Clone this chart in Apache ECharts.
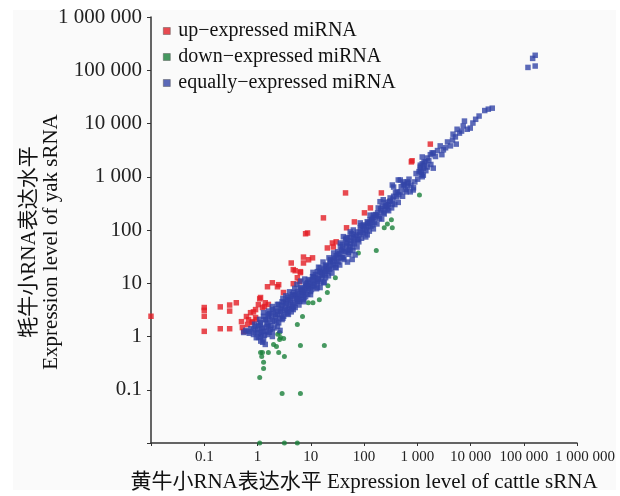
<!DOCTYPE html>
<html>
<head>
<meta charset="utf-8">
<script src="https://cdn.jsdelivr.net/npm/echarts/dist/echarts.min.js"></script>
<style>
  html, body { margin: 0; padding: 0; background: #fff; }
  .panel { position: absolute; left: 13px; top: 10px; width: 603px; height: 480px; background: #fafafa; }
  #chart { position: absolute; left: 0; top: 0; width: 620px; height: 496px; }
</style>
</head>
<body>
<div class="panel"></div>
<div id="chart"></div>
<script>
  // legend names
  const seriesNames = ['up\u2212expressed miRNA', 'down\u2212expressed miRNA', 'equally\u2212expressed miRNA'];
  const seriesColors = ['#e41e25', '#19803a', '#3345a8'];

  // tick labels for exponents -2 .. 6
  const tickLabels = ['', '0.1', '1', '10', '100', '1 000', '10 000', '100 000', '1 000 000'];

  // [cattle, yak]
  const upExpressed = [
    [0.01, 2.4],
    [0.1, 3.5], [0.1, 3.1], [0.1, 2.4], [0.1, 1.25],
    [0.2, 3.6], [0.2, 1.4], [0.3, 3.9], [0.3, 3.0], [0.3, 1.4], [0.4, 4.3],
    [0.5, 1.9], [0.55, 1.24], [0.52, 1.47], [0.62, 2.37], [0.68, 2.08], [0.74, 2.8], [0.84, 2.9],
    [0.92, 3.2], [0.8, 1.83], [0.96, 2.08], [0.65, 1.68], [1.04, 3.97], [1.14, 5.4], [1.24, 3.5],
    [1.35, 3.65], [1.54, 8.6], [1.9, 10.2], [2.37, 8.6], [1.6, 4.0], [3.07, 6.7], [4.7, 9.8],
    [5.6, 12.7], [6.4, 15.8], [5.1, 17.2],
    [8.7, 88], [8, 85], [25.5, 57], [26.6, 48], [20.5, 46], [30, 60], [4.3, 24], [7.3, 31],
    [9.1, 27.6], [10.8, 30], [7.3, 24], [4.7, 18], [6.4, 16.5], [6.1, 10.7], [2.5, 9.4],
    [1.1, 5.1], [1.4, 4.3], [0.92, 2.27], [0.8, 1.9],
    [17.3, 169], [45, 497], [212, 497], [132, 260], [102, 210], [66, 142], [47, 110],
    [775, 1900], [800, 2000], [1760, 4100]
  ];

  const downExpressed = [
    [2.6, 1.19], [3.1, 0.92], [6.4, 0.68], [18, 0.68], [1.24, 0.5], [1.6, 0.5], [2.0, 0.71],
    [2.27, 0.65], [2.5, 0.5], [3.2, 0.42], [1.2, 0.42], [1.3, 0.33], [1.3, 0.25], [1.1, 0.17],
    [2.9, 0.085], [6.4, 0.085], [1.1, 0.01], [3.2, 0.01], [5.6, 0.01], [1.14, 0.5], [2.7, 0.96],
    [5.6, 1.68], [7, 2.37], [11, 4.3], [14.5, 4.9], [20.5, 6.7], [21, 9], [29, 12.7], [9, 4.3],
    [78.5, 37], [170, 41], [1100, 455], [327, 155], [275, 130], [240, 110], [340, 110],
    [2.4, 1.1], [2.6, 0.88]
  ];

  const equallyExpressed = [
    [164000, 191000], [147000, 167000], [120000, 113000], [164000, 120000],
    [25600, 19400], [21600, 18600], [14500, 13800], [11100, 10200], [7700, 11100], [9900, 8200],
    [8700, 7800], [5600, 7800], [6200, 6600], [4700, 6300], [5200, 5600], [4600, 4900],
    [4200, 3800], [5400, 4100], [2700, 3800], [3100, 3200], [2000, 2800], [1760, 2600],
    [1540, 2250], [1340, 1900], [1140, 1650], [1300, 1450], [1190, 1230], [2000, 1450],
    [1240, 1000], [650, 800], [550, 700], [850, 620],
    [1240, 1750], [1140, 1330], [1300, 1070], [550, 800], [680, 760], [440, 870], [360, 640],
    [480, 520], [600, 570], [740, 520], [390, 500], [310, 400], [200, 340], [250, 330],
    [220, 280], [340, 310], [440, 330], [270, 240], [180, 210], [230, 210], [150, 170],
    [195, 165], [130, 155], [115, 143], [145, 125], [97, 125], [85, 110], [106, 92], [75, 92],
    [63, 81], [55, 72], [41, 75], [78, 66], [49, 58], [39, 53], [60, 48], [41, 39], [51, 38],
    [68, 34], [39, 30], [49, 25], [60, 28], [1540, 1520],
    [55, 92], [45, 66], [63, 60], [36, 49], [51, 42], [32, 39], [41, 31], [27, 30], [33, 25],
    [23, 24], [19, 22], [29, 20], [15, 19.6], [21, 16.5], [13.3, 16.5], [16.5, 14.5],
    [11.3, 13.3], [19, 12.7], [9, 11.7], [13.3, 10.7], [8, 9.4], [10.8, 8.6], [6.4, 8.3],
    [15, 8.3], [5.6, 7], [7.3, 6.7], [4.5, 6.1], [9.9, 6.1], [3.7, 5.4], [5.6, 4.9], [2.9, 4.5],
    [4.2, 4.3], [7.3, 4.5], [2.37, 4.0], [3.3, 3.65], [1.9, 3.2], [2.7, 2.95], [4.7, 3.2],
    [1.6, 2.6], [2.2, 2.37], [3.8, 2.6], [1.4, 2.08], [1.9, 1.9], [2.9, 2.08], [1.14, 1.68],
    [1.6, 1.54], [2.37, 1.54], [1.0, 1.35], [1.3, 1.24], [1.9, 1.24], [0.84, 1.09], [1.14, 1.0],
    [0.55, 1.19], [0.68, 1.24], [0.84, 1.35], [0.92, 1.54], [1.14, 1.83], [1.4, 2.08],
    [1.24, 1.47], [1.54, 1.68], [1.75, 1.35], [1.14, 1.19], [1.04, 0.96], [1.3, 0.88],
    [1.9, 1.0], [1.6, 2.37], [2.0, 2.9], [1.9, 3.65], [2.5, 4.0], [3.1, 4.3], [3.7, 4.9],
    [4.2, 5.6], [4.7, 6.7], [6.4, 7.6], [8.7, 10.2], [11.3, 12.7], [16.5, 15.8], [2.37, 2.6],
    [2.7, 3.2], [3.7, 3.2], [4.7, 3.65], [5.6, 4.5], [8, 5.6], [9.9, 7], [13.3, 8.3],
    [17.3, 10.2], [1.54, 1.09], [1.4, 0.71],
    [480, 870], [650, 645], [840, 565], [340, 700], [420, 520], [230, 370], [285, 300],
    [185, 260], [150, 190], [120, 115], [115, 81], [85, 136], [63, 100], [75, 66], [49, 72],
    [36, 57], [55, 42], [32, 31], [23.4, 27.6], [19, 20], [15.2, 15.8], [10.8, 13.3],
    [13.3, 10.2], [8, 8.6], [7, 6.7], [5.6, 5.6], [1140, 1520], [1240, 2350], [1900, 2800],
    [1430, 1900],
    [2.1, 2.0], [2.5, 1.8], [3, 2.2], [3.5, 2.9], [4, 3.8], [5, 4.2], [6, 5], [7, 6], [8, 7],
    [9, 8], [10, 9], [12, 11], [14, 12], [17, 14], [20, 17], [24, 19], [28, 23], [1.2, 1.4],
    [1.5, 1.5], [0.9, 1.2], [0.7, 1.15], [0.6, 1.3], [1.1, 2.1], [1.3, 2.4], [1.7, 2.7],
    [2.2, 3.3], [2.8, 3.8], [3.4, 4.6], [4.5, 5.2], [5.2, 6.2], [6.8, 7.2], [8.5, 9], [11, 10],
    [13, 13], [16, 16], [19, 18], [22, 21], [26, 26], [30, 33], [35, 36], [40, 44], [47, 50],
    [55, 55], [65, 70], [72, 80], [85, 90], [95, 100], [110, 120], [125, 135], [140, 150],
    [160, 175], [170, 190], [210, 230], [250, 260], [300, 340], [350, 380], [270, 280],
    [1.05, 1.6], [1.2, 1.1], [1.25, 0.78], [1.35, 1.05], [1.45, 1.25], [1.5, 1.85], [1.65, 1.2],
    [1.7, 2.1], [1.8, 1.6], [1.85, 2.4], [2.05, 1.45], [2.15, 2.6], [2.3, 1.9], [2.4, 3.0],
    [2.6, 2.2], [2.65, 1.3], [2.8, 2.6], [2.9, 3.4], [1.15, 0.82], [1.02, 1.2], [0.95, 0.95],
    [0.75, 1.4], [0.88, 1.7], [1.6, 3.0], [1.3, 2.8],
    [3.1, 2.4], [3.3, 3.1], [3.5, 4.1], [3.6, 2.7], [3.9, 3.4], [4.1, 4.8], [4.3, 2.9],
    [4.6, 4.0], [4.9, 5.8], [5.1, 3.5], [5.4, 5.2], [5.8, 6.4], [6.0, 3.9], [6.2, 4.6],
    [6.6, 5.9], [6.9, 8.0], [7.5, 5.3], [7.8, 7.5], [8.2, 9.8], [8.8, 6.2], [9.2, 8.8],
    [9.6, 11], [3.0, 5.2], [3.4, 5.8], [4.0, 6.9], [5.0, 8.0], [5.5, 9.5], [6.5, 11], [7.7, 12],
    [4.4, 3.3], [5.9, 5.1], [7.2, 4.9],
    [10.3, 7.6], [10.8, 11.4], [11.6, 9.0], [12.2, 14.5], [12.8, 7.9], [13.8, 12.2],
    [14.4, 16.8], [15.5, 10.6], [16.2, 13.0], [17.5, 18.5], [18, 10.5], [18.6, 15.2], [20, 21],
    [21.5, 13.8], [22.5, 18.2], [23.5, 26], [25, 15.5], [26.5, 22], [28, 29], [30, 19.5],
    [31, 26], [33, 35], [35, 22], [37, 30], [38, 42], [11, 16], [14, 20], [17, 25], [22, 30],
    [27, 37],
    [42, 28], [44, 40], [46, 55], [52, 35], [54, 48], [57, 64], [62, 41], [66, 55], [70, 75],
    [74, 48], [80, 60], [84, 82], [90, 70], [96, 88], [100, 115], [108, 74], [112, 100],
    [118, 135], [126, 95], [135, 118], [142, 160], [150, 105], [158, 140], [165, 195],
    [175, 130], [190, 180], [205, 250], [215, 160], [240, 200], [260, 290], [290, 230],
    [310, 350], [330, 260], [360, 430], [380, 300], [410, 420], [46, 70], [58, 85], [88, 120],
    [130, 190],
    [450, 460], [500, 650], [530, 430], [580, 720], [620, 520], [700, 900], [760, 700],
    [900, 800], [950, 1150], [1020, 900], [1080, 1250], [1200, 1100], [1350, 1600],
    [1450, 1300], [1650, 2000], [1800, 1700], [2200, 2400], [2400, 3100], [2900, 2600],
    [3400, 3500], [3700, 4500], [6800, 7200], [7300, 9000], [12500, 12000], [18500, 17500]
  ];

  const SERIF = '"Liberation Serif", "DejaVu Serif", "Noto Sans CJK SC", serif';

  function tickText(value) {
    const idx = Math.round(Math.log10(value)) + 2;
    return tickLabels[idx] || '';
  }

  const axisLine = { show: true, lineStyle: { color: '#333', width: 1.5 } };

  const chart = echarts.init(document.getElementById('chart'));
  chart.setOption({
    backgroundColor: 'transparent',
    animation: false,
    grid: { left: 151, top: 17, right: 43, bottom: 53, containLabel: false, outerBoundsMode: 'none' },
    legend: {
      orient: 'vertical',
      left: 158,
      top: 16,
      itemWidth: 7,
      itemHeight: 7,
      itemGap: 6,
      icon: 'rect',
      data: seriesNames,
      textStyle: { fontFamily: SERIF, fontSize: 20, color: '#111', lineHeight: 20, padding: [0, 0, 0, 3] },
      itemStyle: { borderColor: '#555', borderWidth: 0.6 }
    },
    xAxis: {
      type: 'log',
      logBase: 10,
      min: 0.01,
      max: 1000000,
      splitNumber: 8,
      axisLine: axisLine,
      axisTick: { show: true, length: 3, lineStyle: { color: '#333' } },
      minorTick: { show: false },
      splitLine: { show: false },
      axisLabel: {
        margin: 7,
        fontFamily: SERIF,
        fontSize: 15,
        color: '#222',
        formatter: v => {
          const s = tickText(v);
          return Math.round(Math.log10(v)) === 6 ? '{last|' + s + '}' : s;
        },
        rich: { last: { fontFamily: SERIF, fontSize: 15, color: '#222', padding: [0, 0, 0, 16] } }
      },
      name: '黄牛小RNA表达水平 Expression level of cattle sRNA',
      nameLocation: 'middle',
      nameGap: 29,
      nameMoveOverlap: false,
      nameTextStyle: { fontFamily: SERIF, fontSize: 21, color: '#111' }
    },
    yAxis: {
      type: 'log',
      logBase: 10,
      min: 0.01,
      max: 1000000,
      splitNumber: 8,
      axisLine: axisLine,
      axisTick: { show: true, length: 4, lineStyle: { color: '#333' } },
      minorTick: { show: false },
      splitLine: { show: false },
      axisLabel: {
        margin: 9,
        fontFamily: SERIF,
        fontSize: 21,
        color: '#222',
        formatter: v => tickText(v)
      },
      name: '牦牛小RNA表达水平\nExpression level of yak sRNA',
      nameLocation: 'middle',
      nameRotate: 90,
      nameGap: 89,
      nameMoveOverlap: false,
      nameTextStyle: { fontFamily: SERIF, fontSize: 21, color: '#111', lineHeight: 22, padding: [0, 24, 0, 0] }
    },
    series: [
      {
        name: seriesNames[0],
        type: 'scatter',
        symbol: 'rect',
        symbolSize: 5.5,
        itemStyle: { color: seriesColors[0] },
        data: upExpressed
      },
      {
        name: seriesNames[1],
        type: 'scatter',
        symbol: 'circle',
        symbolSize: 5,
        itemStyle: { color: seriesColors[1] },
        data: downExpressed
      },
      {
        name: seriesNames[2],
        type: 'scatter',
        symbol: 'rect',
        symbolSize: 5.5,
        itemStyle: { color: seriesColors[2] },
        data: equallyExpressed
      }
    ]
  });
</script>
</body>
</html>
